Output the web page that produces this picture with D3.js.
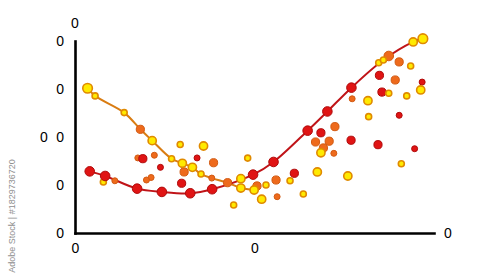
<!DOCTYPE html>
<html>
<head>
<meta charset="utf-8">
<script src="https://cdn.jsdelivr.net/npm/d3@7/dist/d3.min.js"></script>
<style>
html,body{margin:0;padding:0;background:#fff;}
svg{display:block;font-family:"Liberation Sans","DejaVu Sans",sans-serif;}
</style>
</head>
<body>
<svg id="chart" width="500" height="280"></svg>
<script>
// ---- data ----
const xTicks = [0, 50];
const yTicks = [0, 25, 50, 75, 100];
const tickLabel = "0";
const yTitle = "0";
const xTitle = "0";
const topTitle = "0";
const watermark = "Adobe Stock | #1829736720";

// red trend line (x, y, marker group)
const redX = [4.1, 8.4, 17.3, 24.2, 32.1, 38.2, 49.6, 55.3, 64.8, 70.3, 77.0, 85.9, 94.2, 96.9];
const redY = [32.1, 29.7, 23.1, 21.4, 20.7, 22.8, 30.4, 37.0, 53.3, 63.3, 75.7, 90.1, 99.5, 101.2];
const redG = ["R","R","R","R","R","R","R","R","R","R","R","Y","Y","Y"];
const redS = [3,3,3,3,3,3,3,3,3,3,3,1,2,3];

// orange trend line
const orgX = [3.5, 5.6, 13.7, 18.2, 21.5, 26.9, 29.9, 32.7, 35.1, 38.1, 42.5, 46.2, 49.9];
const orgY = [75.4, 71.4, 62.7, 54.0, 48.1, 38.7, 36.3, 34.2, 30.7, 28.6, 26.2, 23.4, 22.4];
const orgG = ["Y","Y","Y","O","Y","Y","Y","Y","Y","O","O","Y","Y"];
const orgS = [3,1,1,2,2,1,2,2,1,1,2,2,2];

// scattered points
const ptX = [17.5,18.9,22.1,23.8,21.2,19.9,7.9,11.1,29.3,35.8,34.0,38.6,48.1,30.4,29.7,46.2,50.7,52.0,44.2,53.2,56.0,56.3,59.9,61.1,63.6,67.5,68.5,72.4,67.0,69.2,70.8,68.5,72.1,76.9,76.0,87.4,84.6,90.3,93.5,84.8,89.2,96.7,85.5,87.4,92.4,96.3,77.2,81.6,81.8,90.3,84.4,94.6,90.9];
const ptY = [39.1,38.7,40.5,34.2,28.9,27.6,26.6,27.2,46.1,45.3,39.1,36.6,39.0,31.8,25.9,28.3,24.5,17.6,14.6,25.0,27.6,18.9,27.2,31.1,20.3,31.8,52.2,55.4,47.4,44.3,47.8,41.8,41.5,48.3,29.7,92.2,88.7,89.1,87.0,82.1,79.7,78.6,73.4,72.8,71.4,74.5,69.9,68.9,60.6,61.3,46.0,43.9,36.1];
const ptG = ["O","R","O","R","O","O","Y","O","Y","Y","R","O","Y","O","R","Y","O","Y","Y","Y","O","O","Y","R","Y","Y","R","O","O","O","O","Y","O","R","Y","O","Y","O","Y","R","O","R","R","Y","Y","Y","O","Y","Y","R","R","R","Y"];
const ptS = [1,2,1,1,1,1,1,1,1,2,1,2,1,2,2,2,2,2,1,1,2,1,1,2,1,2,2,2,2,2,2,2,1,2,2,3,1,2,1,2,2,1,2,1,1,2,1,2,1,1,2,1,1];

// ---- drawing ----
const W = 500, H = 280;
const m = {left: 75, right: 66, top: 41, bottom: 47};
const svg = d3.select("#chart");

const x = d3.scaleLinear().domain([0, 100]).range([m.left, W - m.right]);
const y = d3.scaleLinear().domain([0, 100]).range([H - m.bottom, m.top]);
const r = d3.scaleOrdinal().domain([1, 2, 3]).range([3, 4.1, 4.8]);

const fill = {Y: "#ffea00", O: "#ee6a1c", R: "#e01414"};
const stroke = {Y: "#e08a00", O: "#d25a12", R: "#b00a0a"};

// watermark
svg.append("text")
  .attr("transform", "translate(15,216) rotate(-90)")
  .attr("text-anchor", "middle")
  .attr("font-size", 9)
  .attr("fill", "#8f8f8f")
  .text(watermark);

// axes
const yAxis = svg.append("g")
  .attr("transform", `translate(${m.left},0)`)
  .call(d3.axisLeft(y).tickValues(yTicks).tickSize(0).tickSizeOuter(0).tickPadding(11).tickFormat(() => tickLabel));
const xAxis = svg.append("g")
  .attr("transform", `translate(0,${H - m.bottom})`)
  .call(d3.axisBottom(x).tickValues(xTicks).tickSize(0).tickSizeOuter(0).tickPadding(10).tickFormat(() => tickLabel));
[yAxis, xAxis].forEach(g => {
  g.select(".domain").attr("stroke", "#000").attr("stroke-width", 2.6).attr("stroke-linecap", "square");
  g.selectAll("text").attr("font-size", 14).attr("fill", "#000")
    .attr("font-family", "Liberation Sans, DejaVu Sans, sans-serif");
});

svg.append("text").attr("x", 44).attr("y", y(50)).attr("dy", "0.35em")
  .attr("text-anchor", "middle").attr("font-size", 14).text(yTitle);
svg.append("text").attr("x", 448).attr("y", y(0)).attr("dy", "0.35em")
  .attr("text-anchor", "middle").attr("font-size", 14).text(xTitle);
svg.append("text").attr("x", m.left).attr("y", 23).attr("dy", "0.35em")
  .attr("text-anchor", "middle").attr("font-size", 14).text(topTitle);

// lines
const line = d3.line().x(d => x(d[0])).y(d => y(d[1])).curve(d3.curveCatmullRom.alpha(0.5));
const orgPts = orgX.map((v, i) => [v, orgY[i], orgG[i], orgS[i]]);
const redPts = redX.map((v, i) => [v, redY[i], redG[i], redS[i]]);
svg.append("path").datum(orgPts).attr("d", line)
  .attr("fill", "none").attr("stroke", "#d97c12").attr("stroke-width", 2);
svg.append("path").datum(redPts).attr("d", line)
  .attr("fill", "none").attr("stroke", "#c01418").attr("stroke-width", 2);

// scatter
const scat = ptX.map((v, i) => [v, ptY[i], ptG[i], ptS[i]]);
const all = scat.concat(orgPts, redPts);
svg.append("g").selectAll("circle").data(all).join("circle")
  .attr("cx", d => x(d[0])).attr("cy", d => y(d[1]))
  .attr("r", d => r(d[3]))
  .attr("fill", d => fill[d[2]])
  .attr("stroke", d => stroke[d[2]])
  .attr("stroke-width", d => d[2] === "Y" ? 1.6 : 1);
</script>
</body>
</html>
